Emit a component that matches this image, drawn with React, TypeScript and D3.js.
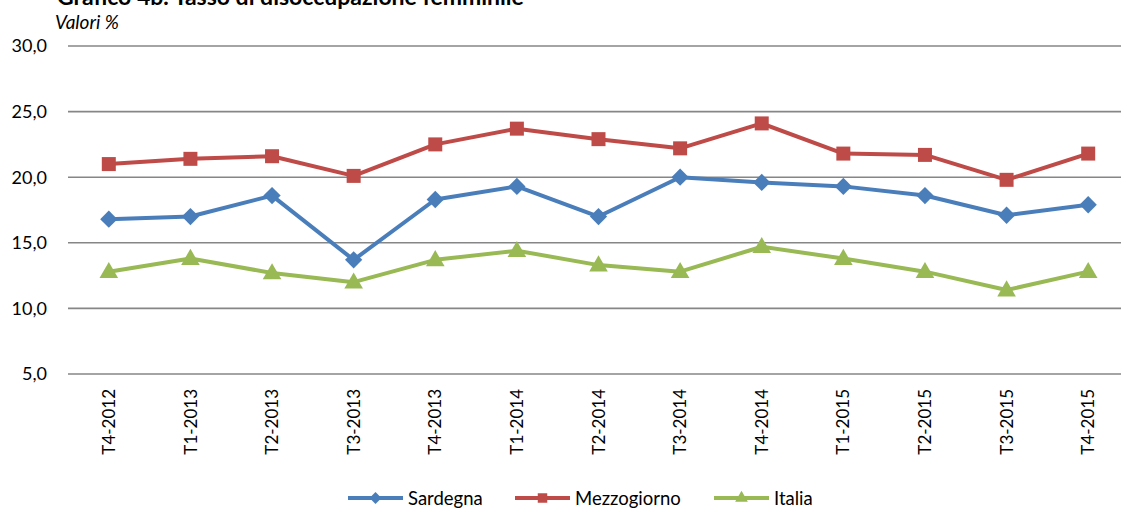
import * as d3 from "d3";
import {useEffect, useRef} from "react";

// quarters on the x axis
const quarters = [
    "T4-2012", "T1-2013", "T2-2013", "T3-2013", "T4-2013", "T1-2014", "T2-2014",
    "T3-2014", "T4-2014", "T1-2015", "T2-2015", "T3-2015", "T4-2015",
];

// female unemployment rate, values %
const sardegna = [16.8, 17.0, 18.6, 13.7, 18.3, 19.3, 17.0, 20.0, 19.6, 19.3, 18.6, 17.1, 17.9];
const mezzogiorno = [21.0, 21.4, 21.6, 20.1, 22.5, 23.7, 22.9, 22.2, 24.1, 21.8, 21.7, 19.8, 21.8];
const italia = [12.8, 13.8, 12.7, 12.0, 13.7, 14.4, 13.3, 12.8, 14.7, 13.8, 12.8, 11.4, 12.8];

const yTicks = [5, 10, 15, 20, 25, 30];

const series = [
    {name: "Sardegna", values: sardegna, color: "#4A7EBB", marker: "diamond"},
    {name: "Mezzogiorno", values: mezzogiorno, color: "#BE4B48", marker: "square"},
    {name: "Italia", values: italia, color: "#98B954", marker: "triangle"},
];

const font = "Lato, 'Open Sans', sans-serif";

export default function App() {
    const ref = useRef(null); // svg reference

    useEffect(() => {
        const width = 1121;
        const height = 510;
        const svg = d3.select(ref.current);
        svg.attr("width", width).attr("height", height);
        svg.selectAll("*").remove();

        const x = d3.scalePoint().domain(quarters).range([68, 1129]).padding(0.5);
        const y = d3.scaleLinear().domain([5, 30]).range([374, 46]);

        // title (cut at the top, as in the source) and subtitle
        svg.append("text").attr("x", 57).attr("y", 5)
            .attr("font-family", font).attr("font-weight", "bold").attr("font-size", 23)
            .text("Grafico 4b. Tasso di disoccupazione femminile");
        svg.append("text").attr("x", 55).attr("y", 29)
            .attr("font-family", font).attr("font-style", "italic").attr("font-size", 19)
            .text("Valori %");

        // horizontal gridlines
        svg.append("g").selectAll("line").data(yTicks).join("line")
            .attr("x1", 68).attr("x2", width)
            .attr("y1", d => y(d)).attr("y2", d => y(d))
            .attr("stroke", "#868686").attr("stroke-width", 1.6);

        // y tick labels
        svg.append("g").selectAll("text").data(yTicks).join("text")
            .attr("x", 47).attr("y", d => y(d)).attr("dy", "0.36em")
            .attr("text-anchor", "end")
            .attr("font-family", font).attr("font-size", 18)
            .text(d => d3.format(".1f")(d).replace(".", ","));

        // x labels, rotated
        svg.append("g").selectAll("text").data(quarters).join("text")
            .attr("transform", d => `translate(${x(d)},389) rotate(-90)`)
            .attr("text-anchor", "end").attr("dy", "0.36em")
            .attr("font-family", font).attr("font-size", 17)
            .text(d => d);

        const symbolFor = (m, size) => {
            const type = m === "diamond" ? d3.symbolDiamond2 : m === "square" ? d3.symbolSquare : d3.symbolTriangle;
            return d3.symbol().type(type).size(size)();
        };

        const line = d3.line().x((_, i) => x(quarters[i])).y(d => y(d));

        // series lines and markers
        series.forEach(s => {
            const g = svg.append("g");
            g.append("path").datum(s.values)
                .attr("d", line).attr("fill", "none")
                .attr("stroke", s.color).attr("stroke-width", 4).attr("stroke-linejoin", "round");
            const size = s.marker === "square" ? 196 : s.marker === "diamond" ? 190 : 150;
            g.selectAll("path.m").data(s.values).join("path").attr("class", "m")
                .attr("transform", (d, i) => `translate(${x(quarters[i])},${y(d) + (s.marker === "triangle" ? 1 : 0)})`)
                .attr("d", symbolFor(s.marker, size))
                .attr("fill", s.color);
        });

        // legend
        const legendPos = [348, 515, 714];
        const leg = svg.append("g");
        series.forEach((s, i) => {
            const lx = legendPos[i];
            const ly = 498;
            leg.append("line").attr("x1", lx).attr("x2", lx + 55).attr("y1", ly).attr("y2", ly)
                .attr("stroke", s.color).attr("stroke-width", 4);
            leg.append("path").attr("transform", `translate(${lx + 27.5},${ly})`)
                .attr("d", symbolFor(s.marker, s.marker === "triangle" ? 70 : 90))
                .attr("fill", s.color);
            leg.append("text").attr("x", lx + 60).attr("y", ly).attr("dy", "0.36em")
                .attr("font-family", font).attr("font-size", 18.5)
                .text(s.name);
        });
    }, []);

    return (
        <div style={{position: "fixed", left: 0, top: 0, background: "#fff"}}>
            <svg ref={ref}></svg>
        </div>
    );
}
